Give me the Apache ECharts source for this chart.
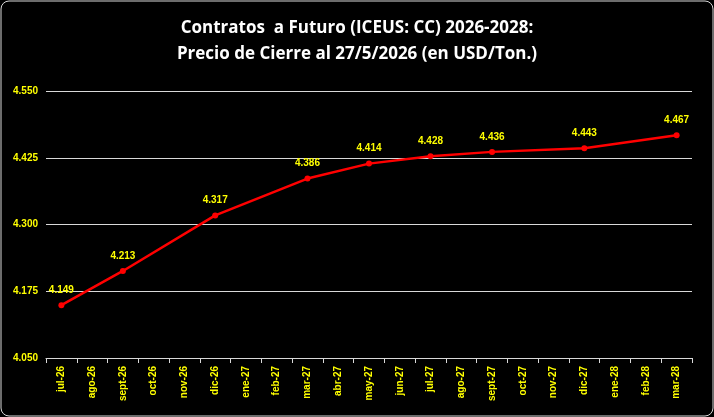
<!DOCTYPE html>
<html><head><meta charset="utf-8">
<script src="https://cdn.jsdelivr.net/npm/echarts@6/dist/echarts.min.js"></script>
<style>html,body{margin:0;padding:0;background:#000}#c{width:714px;height:417px}</style>
</head><body><div id="c"></div>
<script>
const categories=['jul-26','ago-26','sept-26','oct-26','nov-26','dic-26','ene-27','feb-27','mar-27','abr-27','may-27','jun-27','jul-27','ago-27','sept-27','oct-27','nov-27','dic-27','ene-28','feb-28','mar-28'];
const values=[4.149,null,4.213,null,null,4.317,null,null,4.386,null,4.414,null,4.428,null,4.436,null,null,4.443,null,null,4.467];
const yTicks={min:4.05,max:4.55,interval:0.125};
const chart=echarts.init(document.getElementById('c'));
chart.setOption({
backgroundColor:'#000',
graphic:[{type:'rect',shape:{x:1,y:1,width:712,height:415,r:8},style:{fill:'none',stroke:'#d9d9d9',lineWidth:1}}],
title:{text:'Contratos  a Futuro (ICEUS: CC) 2026-2028:\nPrecio de Cierre al 27/5/2026 (en USD/Ton.)',left:'center',top:10,
textStyle:{color:'#fff',fontSize:17,fontWeight:'bold',fontFamily:'Open Sans',lineHeight:26}},
grid:{left:46,right:22,top:91,bottom:59},
xAxis:{type:'category',data:categories,boundaryGap:true,
axisLine:{lineStyle:{color:'#d9d9d9'}},axisTick:{show:true,lineStyle:{color:'#d9d9d9'}},
axisLabel:{color:'#ffff00',rotate:90,fontSize:10,fontWeight:'bold',fontFamily:'Liberation Sans',interval:0}},
yAxis:{type:'value',min:yTicks.min,max:yTicks.max,interval:yTicks.interval,
axisLine:{show:false},axisTick:{show:false},
splitLine:{lineStyle:{color:'#d9d9d9',width:1}},
axisLabel:{color:'#ffff00',fontSize:10,fontWeight:'bold',fontFamily:'Liberation Sans',formatter:v=>v.toFixed(3)}},
series:[{type:'line',data:values,connectNulls:true,symbol:'circle',symbolSize:6,
lineStyle:{color:'#ff0000',width:2.5},itemStyle:{color:'#ff0000'},
label:{show:true,position:'top',distance:7,color:'#ffff00',fontSize:10,fontWeight:'bold',fontFamily:'Liberation Sans',formatter:p=>p.value.toFixed(3)}}]
});
</script></body></html>
